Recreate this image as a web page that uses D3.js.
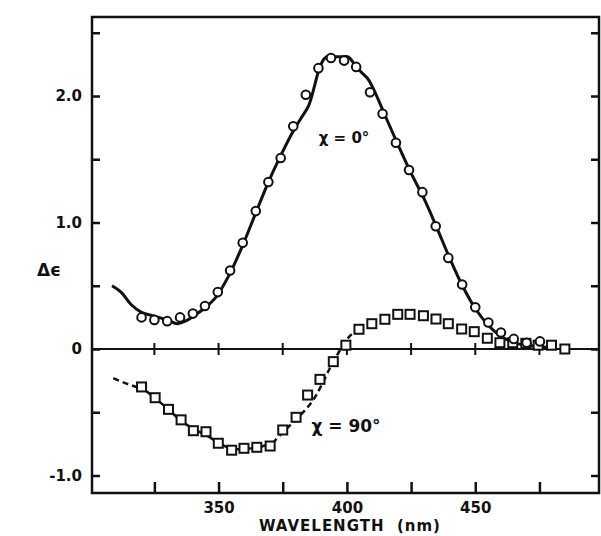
<!DOCTYPE html>
<html>
<head>
<meta charset="utf-8">
<script src="https://cdn.jsdelivr.net/npm/d3@7"></script>
<style>
  body { margin: 0; background: #fff; }
  svg { display: block; }
  text { font-family: "DejaVu Sans", sans-serif; font-weight: bold; fill: #111; }
</style>
</head>
<body>
<svg width="601" height="536"></svg>
<script>
// circles, chi = 0 deg (wavelength nm, delta epsilon)
const circleNm  = [320, 325, 330, 335, 340, 344.7, 349.7, 354.5, 359.4, 364.5, 369.4, 374.2, 379.1, 384, 388.9, 393.8, 398.9, 403.6, 409, 413.9, 419.1, 424.2, 429.4, 434.6, 439.5, 444.9, 450, 455.1, 460, 465, 470, 475.2];
const circleVal = [0.25, 0.23, 0.22, 0.25, 0.28, 0.34, 0.45, 0.62, 0.84, 1.09, 1.32, 1.51, 1.76, 2.01, 2.22, 2.30, 2.28, 2.23, 2.03, 1.86, 1.63, 1.415, 1.24, 0.97, 0.72, 0.51, 0.33, 0.21, 0.13, 0.08, 0.05, 0.06];

// solid curve, chi = 0 deg
const line0Nm  = [308.5, 312, 316, 320, 325, 330, 334, 337, 341, 345, 349, 354, 359, 364, 369, 374, 379, 382, 385, 387, 389, 391, 393, 395.5, 398, 400.5, 403, 405.5, 408, 410, 415, 420, 425, 430, 435, 440, 445, 450, 455, 460, 465, 470, 475, 479];
const line0Val = [0.50, 0.45, 0.35, 0.29, 0.26, 0.23, 0.20, 0.22, 0.27, 0.33, 0.41, 0.58, 0.80, 1.05, 1.30, 1.52, 1.72, 1.82, 1.92, 2.05, 2.20, 2.29, 2.32, 2.31, 2.31, 2.31, 2.25, 2.19, 2.14, 2.07, 1.84, 1.61, 1.39, 1.19, 0.96, 0.72, 0.50, 0.32, 0.19, 0.10, 0.05, 0.03, 0.02, 0.01];

// squares, chi = 90 deg
const squareNm  = [320, 325.3, 330.5, 335.4, 340.2, 345.1, 349.9, 355.1, 359.9, 364.9, 370.1, 375, 380.2, 384.7, 389.5, 394.7, 399.6, 404.7, 409.7, 414.8, 419.8, 424.6, 429.8, 434.7, 439.5, 444.7, 449.6, 454.7, 459.6, 464.6, 469.7, 474.5, 479.7, 484.9];
const squareVal = [-0.30, -0.385, -0.477, -0.56, -0.646, -0.654, -0.745, -0.80, -0.785, -0.777, -0.767, -0.64, -0.54, -0.364, -0.24, -0.10, 0.03, 0.156, 0.20, 0.235, 0.274, 0.274, 0.263, 0.237, 0.20, 0.158, 0.137, 0.085, 0.05, 0.05, 0.045, 0.03, 0.03, 0.0];

// curve pieces, chi = 90 deg
const dashStartNm  = [309, 313.6, 318, 321];
const dashStartVal = [-0.23, -0.27, -0.30, -0.32];
const solidMidNm   = [321, 326, 330, 335, 340, 345, 350, 355, 360, 365, 371];
const solidMidVal  = [-0.32, -0.40, -0.47, -0.56, -0.63, -0.68, -0.74, -0.79, -0.79, -0.78, -0.745];
const dashEndNm    = [371, 375, 380, 384.3, 387.6, 390, 393.4, 397.3, 401, 404];
const dashEndVal   = [-0.745, -0.66, -0.56, -0.47, -0.38, -0.29, -0.15, -0.01, 0.10, 0.15];

// axes
const xTicks = [325, 350, 375, 400, 425, 450, 475];
const xLabels = [350, 400, 450];
const yTicks = [2.5, 2.0, 1.5, 1.0, 0.5, 0, -0.5, -1.0];
const yLabels = { "2": "2.0", "1": "1.0", "0": "0", "-1": "-1.0" };

const ink = "#111";
const svg = d3.select("svg");
const mLeft = 92, mRight = 599, mTop = 17, mBottom = 493;

const x = d3.scaleLinear().domain([300.7, 498.2]).range([mLeft, mRight]);
const y = d3.scaleLinear().domain([(349 - mBottom) / 126.5, (349 - mTop) / 126.5]).range([mBottom, mTop]);

const zip = (a, b) => a.map((d, i) => [d, b[i]]);
const line = d3.line().x(d => x(d[0])).y(d => y(d[1])).curve(d3.curveCatmullRom);

// frame
svg.append("rect")
  .attr("x", mLeft).attr("y", mTop)
  .attr("width", mRight - mLeft).attr("height", mBottom - mTop)
  .attr("fill", "none").attr("stroke", ink).attr("stroke-width", 2.5);

// left axis, ticks pointing in
const yAxis = d3.axisLeft(y).tickValues(yTicks).tickSize(-8).tickPadding(10)
  .tickFormat(d => yLabels[String(d)] || "");
const gy = svg.append("g").attr("transform", `translate(${mLeft},0)`).call(yAxis);
gy.select(".domain").remove();
gy.selectAll("line").attr("stroke", ink).attr("stroke-width", 2.5);
gy.selectAll("text").attr("font-size", 15).attr("font-family", null).style("fill", ink);

// right axis, ticks only
const gr = svg.append("g").attr("transform", `translate(${mRight},0)`)
  .call(d3.axisRight(y).tickValues(yTicks).tickSize(-8).tickFormat(""));
gr.select(".domain").remove();
gr.selectAll("line").attr("stroke", ink).attr("stroke-width", 2.5);

// bottom axis, ticks pointing up
const xAxis = d3.axisBottom(x).tickValues(xTicks).tickSize(-11).tickPadding(9)
  .tickFormat(d => xLabels.includes(d) ? d : "");
const gx = svg.append("g").attr("transform", `translate(0,${mBottom})`).call(xAxis);
gx.select(".domain").remove();
gx.selectAll("line").attr("stroke", ink).attr("stroke-width", 2.5);
gx.selectAll("text").attr("font-size", 15).attr("font-family", null).style("fill", ink);

// zero line with crossing ticks
svg.append("line")
  .attr("x1", mLeft).attr("x2", mRight).attr("y1", y(0)).attr("y2", y(0))
  .attr("stroke", ink).attr("stroke-width", 2);
svg.append("g").selectAll("line").data(xTicks).join("line")
  .attr("x1", d => x(d)).attr("x2", d => x(d))
  .attr("y1", y(0) - 6).attr("y2", y(0) + 6)
  .attr("stroke", ink).attr("stroke-width", 2);

// curves
svg.append("path").datum(zip(line0Nm, line0Val))
  .attr("d", line).attr("fill", "none").attr("stroke", ink).attr("stroke-width", 3);
svg.append("path").datum(zip(solidMidNm, solidMidVal))
  .attr("d", line).attr("fill", "none").attr("stroke", ink).attr("stroke-width", 2.5);
[zip(dashStartNm, dashStartVal), zip(dashEndNm, dashEndVal)].forEach(seg => {
  svg.append("path").datum(seg)
    .attr("d", line).attr("fill", "none").attr("stroke", ink).attr("stroke-width", 2.5)
    .attr("stroke-dasharray", "6,4");
});

// markers
const sq = 9;
svg.append("g").selectAll("rect").data(zip(squareNm, squareVal)).join("rect")
  .attr("x", d => x(d[0]) - sq / 2).attr("y", d => y(d[1]) - sq / 2)
  .attr("width", sq).attr("height", sq)
  .attr("fill", "#fff").attr("stroke", ink).attr("stroke-width", 2);
svg.append("g").selectAll("circle").data(zip(circleNm, circleVal)).join("circle")
  .attr("cx", d => x(d[0])).attr("cy", d => y(d[1])).attr("r", 4.3)
  .attr("fill", "#fff").attr("stroke", ink).attr("stroke-width", 2);

// labels
svg.append("text").attr("x", 49).attr("y", 276).attr("text-anchor", "middle")
  .attr("font-size", 17).text("Δϵ");
svg.append("text").attr("x", 344).attr("y", 143).attr("text-anchor", "middle")
  .attr("font-size", 15).text("χ = 0°");
svg.append("text").attr("x", 346).attr("y", 432).attr("text-anchor", "middle")
  .attr("font-size", 17).text("χ = 90°");
svg.append("text").attr("x", 350).attr("y", 531).attr("text-anchor", "middle")
  .attr("font-size", 15).attr("letter-spacing", 1)
  .style("white-space", "pre").text("WAVELENGTH  (nm)");
</script>
</body>
</html>
